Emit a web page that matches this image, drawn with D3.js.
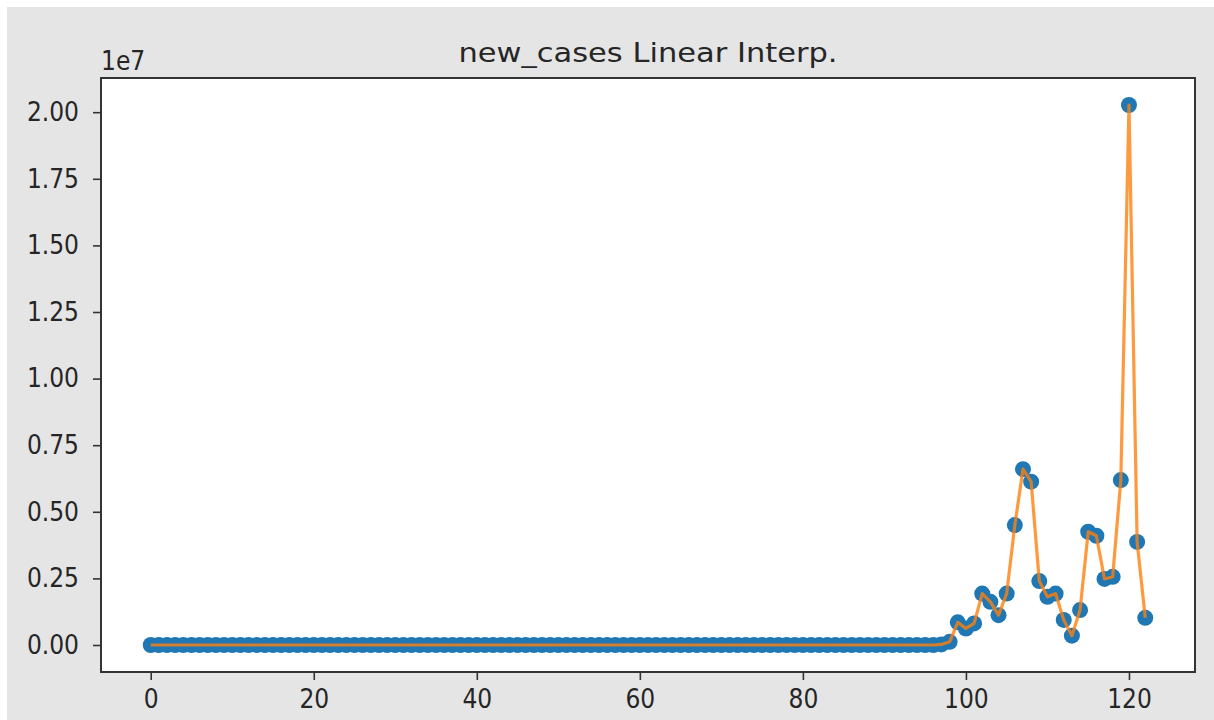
<!DOCTYPE html>
<html>
<head>
<meta charset="utf-8">
<script src="https://cdn.jsdelivr.net/npm/d3@7"></script>
<style>
  html, body { margin: 0; padding: 0; background: #ffffff; }
  svg { display: block; }
  text { font-family: "DejaVu Sans", sans-serif; fill: #262626; }
</style>
</head>
<body>
<svg id="chart" width="1214" height="720"></svg>
<script>
// ---- data ----
const title = "new_cases Linear Interp.";
const offsetLabel = "1e7";
const newCases = [
  0, 0, 0, 0, 0, 0, 0, 0, 0, 0,
  0, 0, 0, 0, 0, 0, 0, 0, 0, 0,
  0, 0, 0, 0, 0, 0, 0, 0, 0, 0,
  0, 0, 0, 0, 0, 0, 0, 0, 0, 0,
  0, 0, 0, 0, 0, 0, 0, 0, 0, 0,
  0, 0, 0, 0, 0, 0, 0, 0, 0, 0,
  0, 0, 0, 0, 0, 0, 0, 0, 0, 0,
  0, 0, 0, 0, 0, 0, 0, 0, 0, 0,
  0, 0, 0, 0, 0, 0, 0, 0, 0, 0,
  0, 0, 0, 0, 0, 0, 0, 20000, 120000, 850000,
  620000, 810000, 1930000, 1620000, 1120000, 1930000, 4500000, 6600000, 6130000, 2400000,
  1810000, 1930000, 940000, 350000, 1310000, 4250000, 4100000, 2480000, 2560000, 6190000,
  20270000, 3870000, 1020000
];
const xTicks = [0, 20, 40, 60, 80, 100, 120];
const yTicks = [0, 2500000, 5000000, 7500000, 10000000, 12500000, 15000000, 17500000, 20000000];
const yTickLabels = ["0.00", "0.25", "0.50", "0.75", "1.00", "1.25", "1.50", "1.75", "2.00"];

// ---- layout ----
const W = 1214, H = 720;
const plot = { left: 101, right: 1195, top: 78, bottom: 672 };
const svg = d3.select("#chart");

svg.append("rect").attr("x", 7).attr("y", 7).attr("width", W - 7).attr("height", H - 7).attr("fill", "#e5e5e5");
svg.append("rect").attr("x", plot.left).attr("y", plot.top)
  .attr("width", plot.right - plot.left).attr("height", plot.bottom - plot.top).attr("fill", "#ffffff");

const n = newCases.length;
const xr = n - 1;
const x = d3.scaleLinear().domain([-0.05 * xr, xr + 0.05 * xr]).range([plot.left, plot.right]);
const yMax = d3.max(newCases), yMin = d3.min(newCases);
const yr = yMax - yMin;
const y = d3.scaleLinear().domain([yMin - 0.05 * yr, yMax + 0.05 * yr]).range([plot.bottom, plot.top]);

const data = newCases.map((v, i) => ({ i, v }));

const g = svg.append("g");
// markers
g.selectAll("circle").data(data).enter().append("circle")
  .attr("cx", d => x(d.i)).attr("cy", d => y(d.v)).attr("r", 8)
  .attr("fill", "#1f77b4");
// line
g.append("path").datum(data)
  .attr("d", d3.line().x(d => x(d.i)).y(d => y(d.v)))
  .attr("fill", "none").attr("stroke", "#ff7f0e").attr("stroke-opacity", 0.8)
  .attr("stroke-width", 3.2).attr("stroke-linejoin", "round");

// axes
const xAxis = svg.append("g").attr("transform", `translate(0,${plot.bottom})`)
  .call(d3.axisBottom(x).tickValues(xTicks).tickSize(8).tickPadding(10).tickSizeOuter(0));
const yAxis = svg.append("g").attr("transform", `translate(${plot.left},0)`)
  .call(d3.axisLeft(y).tickValues(yTicks).tickFormat((d, k) => yTickLabels[k]).tickSize(8).tickPadding(14).tickSizeOuter(0));
[xAxis, yAxis].forEach(a => {
  a.select(".domain").remove();
  a.selectAll(".tick line").attr("stroke", "#333333").attr("stroke-width", 1.6);
  a.selectAll(".tick text").attr("font-size", 26).attr("fill", "#262626")
    .attr("font-family", "DejaVu Sans, sans-serif");
});
xAxis.selectAll(".tick text").attr("x", 0).attr("transform", "scale(0.9,1)");
yAxis.selectAll(".tick text").each(function () {
  const t = d3.select(this);
  const xx = +t.attr("x");
  t.attr("transform", `translate(${xx},0) scale(0.9,1) translate(${-xx},0)`);
});

// frame
svg.append("rect").attr("x", plot.left).attr("y", plot.top)
  .attr("width", plot.right - plot.left).attr("height", plot.bottom - plot.top)
  .attr("fill", "none").attr("stroke", "#333333").attr("stroke-width", 2);

// title
svg.append("text").attr("x", 0).attr("y", 0)
  .attr("transform", `translate(${(plot.left + plot.right) / 2},62) scale(1.13,1)`)
  .attr("text-anchor", "middle").attr("font-size", 27).text(title);

// offset label
svg.append("text").attr("x", 0).attr("y", 0)
  .attr("transform", `translate(${plot.left},70) scale(0.9,1)`)
  .attr("font-size", 26).text(offsetLabel);
</script>
</body>
</html>
